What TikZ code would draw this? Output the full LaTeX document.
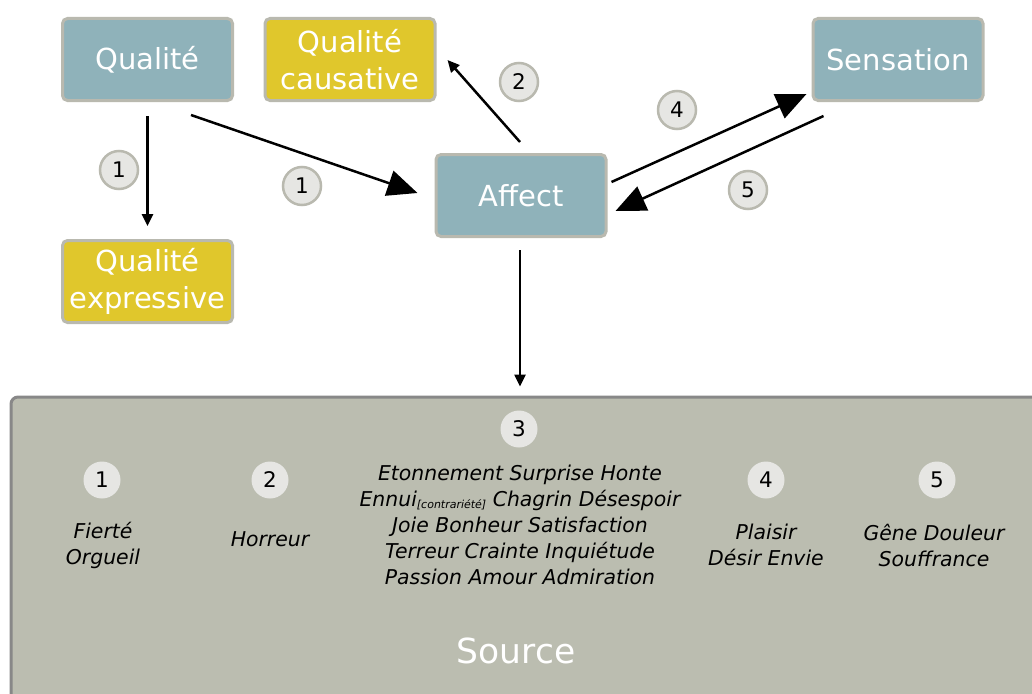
\documentclass[tikz,border=0pt]{standalone}
\usepackage{fontspec}
\setmainfont{DejaVu Sans}
\usetikzlibrary{arrows.meta,calc}
\definecolor{boxblue}{RGB}{143,178,186}
\definecolor{boxyellow}{RGB}{224,199,44}
\definecolor{boxborder}{RGB}{185,185,175}
\definecolor{srcfill}{RGB}{187,189,176}
\definecolor{srcborder}{RGB}{136,136,136}
\definecolor{numfill}{RGB}{230,230,227}
\tikzset{
  concept/.style={draw=boxborder,line width=3pt,rounded corners=5pt,minimum width=170pt,minimum height=82pt,
    text=white,align=center,font=\fontsize{29}{37}\selectfont,inner sep=0pt},
  bluebox/.style={concept,fill=boxblue},
  yellowbox/.style={concept,fill=boxyellow},
  numlabel/.style={circle,draw=boxborder,line width=2.5pt,fill=numfill,minimum size=38pt,inner sep=0pt,
    font=\fontsize{21.5}{21.5}\selectfont},
  srcnum/.style={circle,fill=numfill,minimum size=37pt,inner sep=0pt,font=\fontsize{21.5}{21.5}\selectfont},
  emotions/.style={align=center,font=\fontsize{20.4}{26}\selectfont\itshape,inner sep=0pt},
  conn/.style={line width=2.5pt},
  bigtip/.style={conn,-{Triangle[length=30pt,width=26pt]}},
  smalltip/.style={conn,-{Triangle[length=12pt,width=11pt]}}
}
\begin{document}
\begin{tikzpicture}[x=1pt,y=-1pt]
\clip (0,0) rectangle (1032,693);
\useasboundingbox (0,0) rectangle (1032,693);
\fill[white] (0,0) rectangle (1032,693);
% Source box
\node[draw=srcborder,fill=srcfill,line width=3pt,rounded corners=7pt,minimum width=1035pt,minimum height=312pt,inner sep=0pt] (src) at (528.5,553) {};
\node[text=white,font=\fontsize{34.5}{34.5}\selectfont] (srclabel) at (516,651) {Source};
% top nodes
\node[bluebox] (qual) at (147.5,59.5) {Qualité};
\node[yellowbox] (qcaus) at (350,59.5) {Qualité\\causative};
\node[bluebox] (sens) at (898,59.5) {Sensation};
\node[yellowbox] (qexp) at (147.5,281.5) {Qualité\\expressive};
\node[bluebox] (affect) at (521,195.5) {Affect};
% connectors
\draw[smalltip,shorten <=14pt,shorten >=13pt] (qual.south) -- (qexp.north);
\draw[bigtip] ($(qual.south)+(43.5,13)$) -- ($(affect.west)+(-17,-2.5)$);
\draw[smalltip] ($(affect.north)+(-1,-11)$) -- ($(qcaus.east)+(11,0.5)$);
\draw[bigtip] ($(affect.east)+(4,-13.5)$) -- ($(sens.south west)+(-5,-8)$);
\draw[bigtip] ($(sens.south west)+(12,14)$) -- ($(affect.east)+(8,15.5)$);
\draw[smalltip] ($(affect.south)+(-1,12)$) -- ($(affect.south |- src.north)+(-1,-9)$);
% number labels on connectors
\node[numlabel] (n1a) at (119,170) {1};
\node[numlabel] (n1b) at (302,186) {1};
\node[numlabel] (n2) at (519,82) {2};
\node[numlabel] (n4) at (677,110) {4};
\node[numlabel] (n5) at (748,190) {5};
% source contents
\node[srcnum] (s3) at (519,429) {3};
\node[srcnum] (s1) at (102,480) {1};
\node[srcnum] (s2) at (270,480) {2};
\node[srcnum] (s4) at (766,480) {4};
\node[srcnum] (s5) at (937,480) {5};
\node[emotions] (e1) at (103,545) {Fierté\\Orgueil};
\node[emotions] (e2) at (270,539) {Horreur};
\node[emotions] (e3) at (520,525) {Etonnement Surprise Honte\\Ennui{\fontsize{11}{11}\selectfont\raisebox{-2pt}{[contrariété]}} Chagrin Désespoir\\Joie Bonheur Satisfaction\\Terreur Crainte Inquiétude\\Passion Amour Admiration};
\node[emotions] (e4) at (766,545) {Plaisir\\Désir Envie};
\node[emotions] (e5) at (934,545) {Gêne Douleur\\Souffrance};
\end{tikzpicture}
\end{document}
